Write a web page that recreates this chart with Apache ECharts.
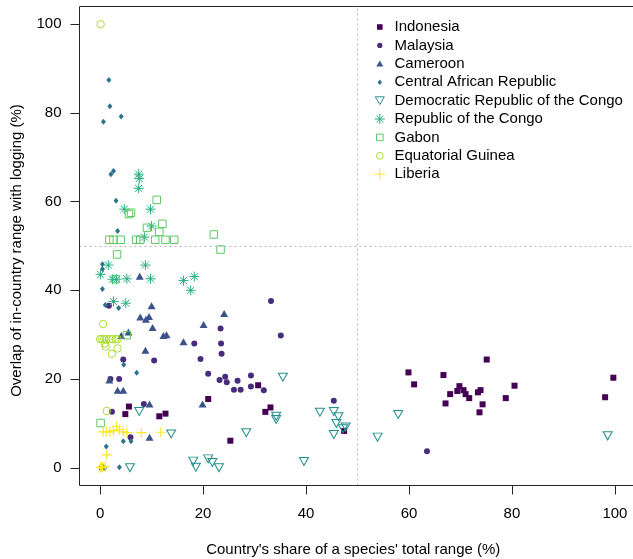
<!DOCTYPE html>
<html><head><meta charset="utf-8">
<script src="https://cdn.jsdelivr.net/npm/echarts@6/dist/echarts.min.js"></script>
<style>html,body{margin:0;padding:0;background:#fff}#c{width:633px;height:559px}</style>
</head><body><div id="c"></div>
<script>
const countries = ['Indonesia','Malaysia','Cameroon','Central African Republic','Democratic Republic of the Congo','Republic of the Congo','Gabon','Equatorial Guinea','Liberia'];
const xTicks = [0,20,40,60,80,100];
const yTicks = [0,20,40,60,80,100];
const thresholds = [50];

const indonesia = [[59.9,21.5],[61.0,18.8],[66.7,20.9],[67.1,14.5],[68.0,16.6],[69.8,18.4],[69.4,17.3],[70.6,17.5],[71.0,16.6],[71.7,15.7],[73.4,17.0],[73.9,17.5],[74.3,14.3],[73.7,12.5],[75.1,24.4],[78.8,15.7],[80.5,18.5],[98.1,15.9],[99.7,20.3],[30.7,18.6],[21.0,15.5],[33.1,13.6],[32.1,12.6],[25.3,6.1],[47.4,8.3],[5.6,13.8],[4.9,12.1],[11.5,11.6],[12.7,12.2]];
const malaysia = [[33.2,37.6],[23.4,31.4],[35.1,29.8],[18.3,28.0],[23.5,28.0],[23.6,25.7],[19.5,24.5],[21.0,21.2],[23.2,19.8],[24.3,20.5],[24.6,19.3],[26.7,19.6],[29.3,20.8],[26.0,17.6],[27.3,17.6],[29.3,18.3],[31.8,17.5],[45.4,15.1],[4.5,24.4],[10.5,24.2],[2.0,20.0],[3.7,20.0],[8.5,14.4],[2.3,12.6],[5.9,6.9],[1.7,36.5],[63.5,3.7]];
const cameroon = [[7.7,43.2],[10.0,36.5],[7.8,34.0],[9.5,34.1],[8.9,33.5],[24.1,34.8],[10.2,31.6],[20.1,32.3],[16.2,28.4],[19.9,14.4],[4.1,29.8],[5.5,30.6],[12.3,29.8],[12.9,30.0],[8.8,26.5],[1.8,19.8],[3.4,17.5],[4.5,17.5],[9.6,14.4],[9.6,6.9],[0.5,0.2]];
const centralAfricanRep = [[1.7,87.4],[1.9,81.5],[4.1,79.2],[0.65,78.0],[2.1,66.2],[2.6,66.9],[3.1,60.2],[3.4,53.4],[0.45,45.9],[0.45,44.8],[0.45,40.3],[1.0,36.7],[3.6,36.0],[4.6,23.2],[7.1,21.4],[4.5,6.0],[6.0,6.0],[1.2,4.8],[3.75,0.1],[0.6,0.1],[0.2,0.2],[0.9,0.0]];
const drCongo = [[35.5,20.4],[42.7,12.5],[45.4,12.7],[46.3,11.5],[45.9,10.0],[34.2,11.6],[34.2,10.9],[47.7,9.2],[47.2,8.8],[45.4,7.5],[28.4,7.9],[39.6,1.4],[18.1,1.5],[18.6,0.1],[21.0,2.0],[21.8,1.2],[23.1,0.0],[57.9,12.0],[53.9,6.9],[98.6,7.2],[7.6,12.7],[13.8,7.6],[5.8,0.0]];
const repCongo = [[7.5,66.2],[7.6,65.2],[7.5,63.0],[4.7,58.3],[9.8,58.3],[10.0,54.5],[8.6,52.0],[1.6,45.7],[0.1,43.6],[8.8,45.7],[2.4,42.5],[3.2,42.5],[5.2,42.6],[9.8,42.6],[16.2,42.2],[18.3,43.1],[17.6,40.0],[2.6,37.5],[5.0,37.1]];
const gabon = [[11.0,60.4],[6.0,57.5],[5.6,57.2],[12.1,55.0],[9.1,54.1],[11.5,53.2],[22.1,52.6],[1.8,51.4],[2.6,51.4],[4.0,51.4],[7.0,51.4],[7.8,51.4],[10.7,51.4],[12.7,51.4],[14.4,51.4],[23.4,49.2],[3.3,48.1],[3.0,42.5],[5.2,29.9],[0.1,10.1]];
const eqGuinea = [[0.1,100],[0.6,32.4],[0.0,29.0],[0.4,29.0],[0.8,29.0],[1.2,29.0],[1.8,29.0],[2.4,29.0],[3.0,29.0],[3.4,29.0],[0.9,28.0],[1.1,27.3],[3.4,26.9],[2.3,25.7],[1.3,12.8]];
const liberia = [[0.6,8.1],[1.2,8.1],[1.9,8.1],[2.6,8.4],[3.2,9.3],[3.75,8.6],[4.5,8.1],[5.2,7.9],[8.0,7.9],[11.8,8.0],[1.3,2.9],[0.5,0.2],[0.1,0.1],[0.3,0.0],[1.0,0.3]];

const seriesData = [indonesia, malaysia, cameroon, centralAfricanRep, drCongo, repCongo, gabon, eqGuinea, liberia];

const FONT = "'Liberation Sans', Arial, Helvetica, sans-serif";
const AXIS_COLOR = '#262626';
const colors = ['#440154','#472D7B','#3B528B','#2C728E','#21908C','#27AD81','#5DC863','#AADC32','#FDE725'];
const DOWN_TRI = 'path://M0,0L10,0L5,8.66Z';
const ASTER = 'path://M5,0L5,10M0,5L10,5M1.46,1.46L8.54,8.54M8.54,1.46L1.46,8.54';
const PLUS = 'path://M5,0L5,10M0,5L10,5';
const styles = [
  {symbol:'rect', size:6, filled:true},
  {symbol:'circle', size:6, filled:true},
  {symbol:'triangle', size:[8,7], filled:true},
  {symbol:'diamond', size:[5,6], filled:true},
  {symbol:DOWN_TRI, size:[9,8], filled:false, bw:1},
  {symbol:ASTER, size:10, filled:false, bw:1},
  {symbol:'rect', size:7.5, filled:false, bw:1},
  {symbol:'circle', size:7.5, filled:false, bw:1},
  {symbol:PLUS, size:10, filled:false, bw:1.2}
];
const B = 'path://M0,0M12,12';
const legendIcons = [
  B+'M3.2,3.2L8.8,3.2L8.8,8.8L3.2,8.8Z',
  B+'M3.4,6A2.6,2.6,0,1,1,8.6,6A2.6,2.6,0,1,1,3.4,6Z',
  B+'M2.5,8.8L9.5,8.8L6,2.8Z',
  B+'M6,3.3L8.2,6L6,8.7L3.8,6Z',
  B+'M1.5,2.2L10.5,2.2L6,10Z',
  B+'M6,1L6,11M1,6L11,6M2.5,2.5L9.5,9.5M9.5,2.5L2.5,9.5',
  B+'M2.7,2.7L9.3,2.7L9.3,9.3L2.7,9.3Z',
  B+'M2.6,6A3.4,3.4,0,1,1,9.4,6A3.4,3.4,0,1,1,2.6,6Z',
  B+'M6,0.5L6,11.5M0.5,6L11.5,6'
];

// Axis extents: plot frame at -4 / 104 (R style 4% padding); the area
// reaches a little further out so the outward tick marks sit inside it.
const BOX_MIN = -4, BOX_MAX = 104;
const X_MIN = -5.75, X_MAX = 104.1;
const Y_MIN = -6.03, Y_MAX = 104;

const series = countries.map((name, i) => {
  const s = styles[i];
  const itemStyle = s.filled ? {color: colors[i], opacity:1} : {color:'transparent', borderColor: colors[i], borderWidth: s.bw, opacity:1};
  return {
    name, type:'scatter', data: seriesData[i], symbol: s.symbol, symbolSize: s.size,
    itemStyle, emphasis:{disabled:true}, z: 3
  };
});

const solid = {color:AXIS_COLOR, type:'solid', width:1};
const dotted = {color:'#b8b8b8', type:[2,3], width:1};
const frameLines = [
  [{coord:[BOX_MIN, BOX_MIN], lineStyle:solid},{coord:[X_MAX, BOX_MIN]}],
  [{coord:[BOX_MIN, BOX_MIN], lineStyle:solid},{coord:[BOX_MIN, BOX_MAX]}],
  [{coord:[BOX_MIN, BOX_MAX], lineStyle:solid},{coord:[X_MAX, BOX_MAX]}]
];
const tickLines = []
  .concat(xTicks.map(v => [{coord:[v, BOX_MIN], lineStyle:solid},{coord:[v, Y_MIN]}]))
  .concat(yTicks.map(v => [{coord:[BOX_MIN, v], lineStyle:solid},{coord:[X_MIN, v]}]));
const thresholdLines = [
  [{coord:[thresholds[0], BOX_MIN], lineStyle:dotted},{coord:[thresholds[0], BOX_MAX]}],
  [{coord:[BOX_MIN, thresholds[0]], lineStyle:dotted},{coord:[X_MAX, thresholds[0]]}]
];
series[0].clip = false;
series[0].markLine = {
  silent:true, symbol:['none','none'], label:{show:false}, animation:false,
  emphasis:{disabled:true},
  lineStyle:solid,
  data: thresholdLines.concat(frameLines, tickLines)
};

const axisCommon = {
  type:'value',
  axisLine:{show:false, onZero:false},
  axisTick:{show:false},
  splitLine:{show:false},
  nameLocation:'middle',
  nameTextStyle:{fontSize:15, color:'#000', fontFamily:FONT}
};

const chart = echarts.init(document.getElementById('c'), null, {renderer:'canvas'});
chart.setOption({
  animation:false,
  textStyle:{fontFamily:FONT},
  grid:{left:70.5, right:-3, top:6.5, bottom:64.5, show:false, containLabel:false, outerBoundsMode:'none'},
  legend:{
    orient:'vertical', left:373.3, top:19.5, padding:0, itemWidth:12, itemHeight:12, itemGap:3.4,
    selectedMode:false, symbolKeepAspect:true,
    itemStyle:{borderWidth:1},
    textStyle:{fontSize:15, color:'#000', fontFamily:FONT, padding:[0,0,0,3.7]},
    data: countries.map((n,i)=>({name:n, icon: legendIcons[i]}))
  },
  xAxis:Object.assign({}, axisCommon, {
    min:X_MIN, max:X_MAX, position:'bottom',
    axisLabel:{customValues:xTicks, margin:11.5, fontSize:15, color:'#000', fontFamily:FONT},
    name:"Country's share of a species' total range (%)", nameGap:48
  }),
  yAxis:Object.assign({}, axisCommon, {
    min:Y_MIN, max:Y_MAX, position:'left',
    axisLabel:{customValues:yTicks, margin:9, fontSize:15, color:'#000', fontFamily:FONT},
    name:'Overlap of in-country range with logging (%)', nameGap:46
  }),
  series
});
</script></body></html>
